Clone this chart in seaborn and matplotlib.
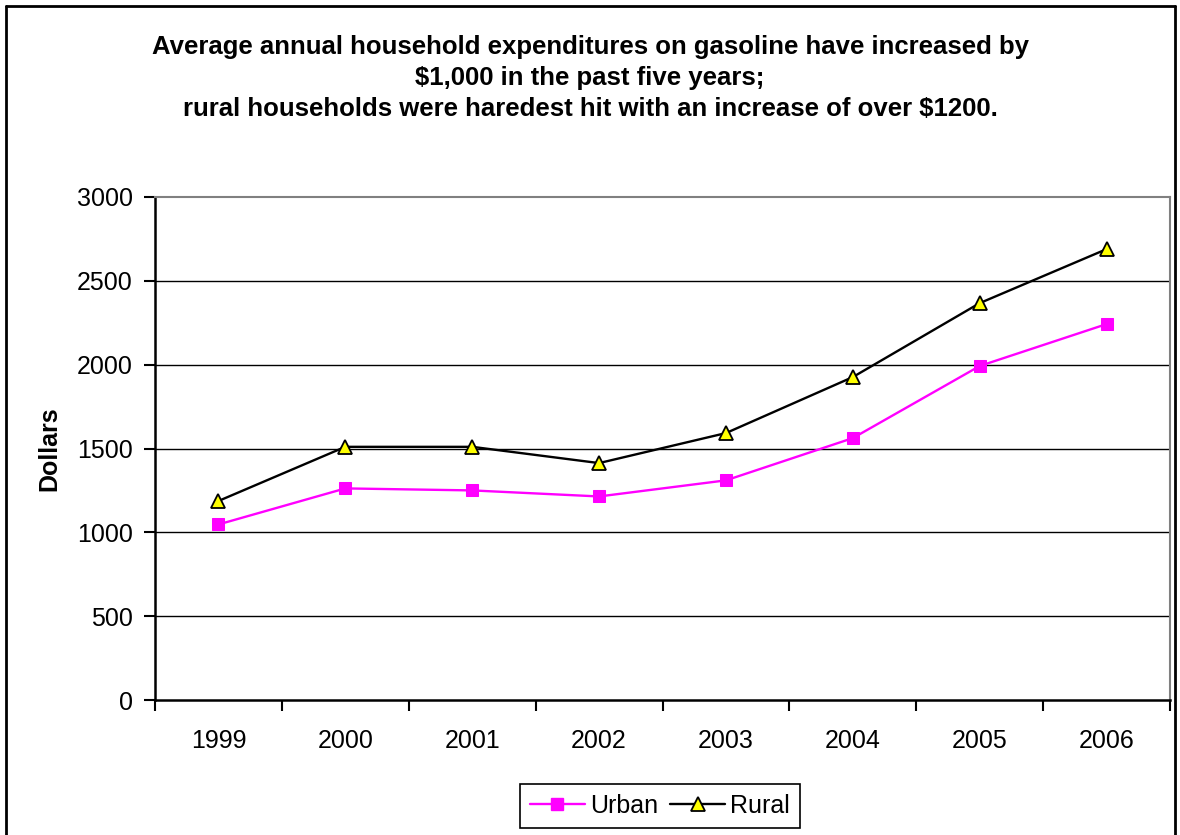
import matplotlib
matplotlib.use("Agg")
import matplotlib.pyplot as plt
import seaborn as sns
import pandas as pd
import numpy as np
from matplotlib.lines import Line2D

years = ["1999", "2000", "2001", "2002", "2003", "2004", "2005", "2006"]
urban = [1047, 1262, 1250, 1214, 1310, 1562, 1992, 2242]
rural = [1187, 1510, 1510, 1413, 1592, 1926, 2367, 2689]
yticks = [0, 500, 1000, 1500, 2000, 2500, 3000]

df = pd.DataFrame({
    "year": years * 2,
    "value": urban + rural,
    "series": ["Urban"] * len(years) + ["Rural"] * len(years),
})

sns.set_theme(style="white")
plt.rcParams["font.family"] = ["Liberation Sans", "DejaVu Sans"]
plt.rcParams["text.color"] = "black"
plt.rcParams["xtick.color"] = "black"
plt.rcParams["ytick.color"] = "black"
plt.rcParams["axes.labelcolor"] = "black"

fig = plt.figure(figsize=(11.8, 8.35), dpi=100)
ax = fig.add_axes([155 / 1180, 1 - 700 / 835, (1170 - 155) / 1180, (700 - 197) / 835])

sns.lineplot(data=df[df.series == "Urban"], x="year", y="value", ax=ax,
             color="#FF00FF", linewidth=1.7, marker="s", markersize=8,
             markeredgecolor="#FF00FF", markerfacecolor="#FF00FF", sort=False)
sns.lineplot(data=df[df.series == "Rural"], x="year", y="value", ax=ax,
             color="black", linewidth=1.7, marker="^", markersize=10,
             markeredgecolor="black", markerfacecolor="#FFFF00",
             markeredgewidth=1.3, sort=False)

ax.set_xlim(-0.5, len(years) - 0.5)
ax.set_ylim(0, 3000)
ax.set_yticks(yticks)
ax.set_yticklabels([str(v) for v in yticks], fontsize=18)
for y in yticks[1:-1]:
    ax.axhline(y, color="black", linewidth=1.0, zorder=0)

ax.set_xticks(np.arange(-0.5, len(years)), minor=False)
ax.set_xticklabels([])
ax.set_xticks(np.arange(len(years)), minor=True)
ax.set_xticklabels(years, minor=True, fontsize=18)
ax.tick_params(axis="x", which="major", direction="out", length=8, width=1.5,
               color="black", bottom=True)
ax.tick_params(axis="x", which="minor", length=0, pad=21)
ax.tick_params(axis="y", direction="out", length=8, width=1.5, color="black",
               left=True, pad=8)

ax.set_xlabel("")
ax.set_ylabel("Dollars", fontsize=18, fontweight="bold", labelpad=11)

for s in ["left", "bottom"]:
    ax.spines[s].set_color("black")
    ax.spines[s].set_linewidth(1.8)
for s in ["top", "right"]:
    ax.spines[s].set_color("#808080")
    ax.spines[s].set_linewidth(1.5)
    ax.spines[s].set_visible(True)

title_lines = [
    "Average annual household expenditures on gasoline have increased by",
    "$1,000 in the past five years;",
    "rural households were haredest hit with an increase of over $1200.",
]
for i, t in enumerate(title_lines):
    fig.text(590 / 1180, 1 - (47 + 31 * i) / 835, t, ha="center", va="center",
             fontsize=18.5, fontweight="bold")

handles = [
    Line2D([], [], color="#FF00FF", linewidth=1.7, marker="s", markersize=8),
    Line2D([], [], color="black", linewidth=1.7, marker="^", markersize=10,
           markerfacecolor="#FFFF00", markeredgecolor="black", markeredgewidth=1.3),
]
leg = fig.legend(handles, ["Urban", "Rural"], loc="center",
                 bbox_to_anchor=(660 / 1180, 1 - 806 / 835), ncol=2,
                 fontsize=18, frameon=True, fancybox=False, edgecolor="black",
                 handlelength=2.2, handletextpad=0.2, columnspacing=0.5,
                 borderpad=0.4, framealpha=1)
leg.get_frame().set_linewidth(1.2)

# outer chart border
fig.add_artist(Line2D([6 / 1180, 6 / 1180], [0, 1 - 6 / 835], color="black", linewidth=2,
                      transform=fig.transFigure))
fig.add_artist(Line2D([6 / 1180, 1175 / 1180], [1 - 6 / 835, 1 - 6 / 835], color="black",
                      linewidth=2, transform=fig.transFigure))
fig.add_artist(Line2D([1175 / 1180, 1175 / 1180], [0, 1 - 6 / 835], color="black",
                      linewidth=2, transform=fig.transFigure))

fig.savefig("out.png", dpi=100)
